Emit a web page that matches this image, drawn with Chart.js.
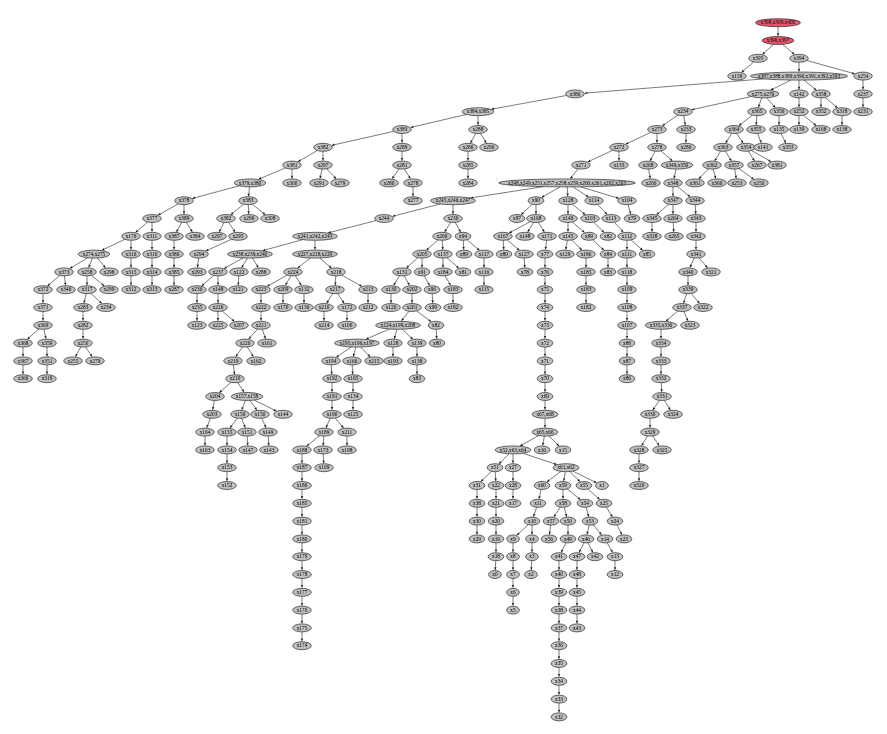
<!DOCTYPE html>
<html>
<head>
<meta charset="utf-8">
<script src="https://cdn.jsdelivr.net/npm/chart.js@4.4.0/dist/chart.umd.min.js"></script>
<style>
  html, body { margin: 0; padding: 0; background: #fff; }
  #wrap { width: 887px; height: 734px; }
</style>
</head>
<body>
<div id="wrap"><canvas id="treeChart" width="887" height="734"></canvas></div>
<script>
// one entry per rank (depth) of the tree; "#2" marks a second node that shows the same label
const rankNames = [
  ['x398,x399,x400'],
  ['x396,x397'],
  ['x395', 'x394'],
  ['x159', 'x387,x388,x389,x390,x391,x392,x393', 'x254'],
  ['x386', 'x275,x276', 'x142', 'x358', 'x237'],
  ['x384,x385', 'x234', 'x365', 'x356', 'x252', 'x352', 'x318', 'x231'],
  ['x383', 'x288', 'x273', 'x233', 'x364', 'x355', 'x135', 'x139', 'x168', 'x138'],
  ['x382', 'x289', 'x286', 'x290', 'x272', 'x278', 'x286#2', 'x363', 'x354', 'x141', 'x353'],
  ['x381', 'x297', 'x281', 'x285', 'x271', 'x133', 'x268', 'x349,x350', 'x362', 'x357', 'x267', 'x381#2'],
  ['x379,x380', 'x300', 'x291', 'x279', 'x280', 'x278#2', 'x284', 'x248,x249,x251,x257,x258,x259,x260,x261,x262,x263', 'x266', 'x348', 'x361', 'x360', 'x253', 'x250#2'],
  ['x378', 'x383#2', 'x277', 'x245,x246,x247', 'x90', 'x128', 'x114', 'x104', 'x347', 'x344'],
  ['x377', 'x389', 'x382#2', 'x296', 'x308', 'x244', 'x230', 'x97', 'x168#2', 'x146', 'x103', 'x113', 'x79', 'x345', 'x264', 'x343'],
  ['x176', 'x311', 'x387', 'x384', 'x297#2', 'x295', 'x241,x242,x243', 'x206', 'x94', 'x167', 'x148', 'x171', 'x145', 'x99', 'x82', 'x112', 'x328', 'x265', 'x342'],
  ['x274,x275', 'x316', 'x310', 'x386#2', 'x294', 'x238,x239,x240', 'x227,x228,x229', 'x205', 'x137', 'x89', 'x117', 'x80', 'x127', 'x77', 'x129', 'x186', 'x84', 'x111', 'x85', 'x341'],
  ['x373', 'x258', 'x298', 'x315', 'x314', 'x385', 'x293', 'x237#2', 'x122', 'x288#2', 'x224', 'x218', 'x131', 'x91', 'x184', 'x81', 'x116', 'x78', 'x76', 'x185', 'x83', 'x118', 'x340', 'x321'],
  ['x372', 'x346', 'x317', 'x299', 'x312', 'x313', 'x287', 'x236', 'x148#2', 'x121', 'x223', 'x209', 'x132', 'x217', 'x213', 'x130', 'x202', 'x96', 'x183', 'x115', 'x75', 'x183#2', 'x109', 'x339'],
  ['x371', 'x283', 'x234#2', 'x235', 'x226', 'x222', 'x170', 'x136', 'x216', 'x172', 'x212', 'x126', 'x201', 'x99#2', 'x182', 'x74', 'x182#2', 'x108', 'x337', 'x322'],
  ['x369', 'x282', 'x123', 'x225', 'x207', 'x221', 'x214', 'x106', 'x124,x199,x208', 'x82#2', 'x73', 'x107', 'x335,x336', 'x323'],
  ['x368', 'x359', 'x250', 'x220', 'x161', 'x195,x196,x197', 'x128#2', 'x139#2', 'x80#2', 'x72', 'x88', 'x334'],
  ['x367', 'x351', 'x255', 'x279#2', 'x219', 'x162', 'x194', 'x166', 'x215', 'x193', 'x138#2', 'x71', 'x87', 'x333'],
  ['x366', 'x319', 'x210', 'x192', 'x165', 'x83#2', 'x70', 'x86', 'x332'],
  ['x204', 'x157,x158', 'x191', 'x134', 'x69', 'x331'],
  ['x203', 'x156', 'x150', 'x144', 'x190', 'x125', 'x67,x68', 'x330', 'x324'],
  ['x164', 'x155', 'x151', 'x149', 'x189', 'x211', 'x65,x66', 'x329'],
  ['x163', 'x154', 'x147', 'x143', 'x188', 'x173', 'x198', 'x52,x63,x64', 'x16', 'x15', 'x328#2', 'x325'],
  ['x153', 'x187', 'x169', 'x51', 'x27', 'x61,x62', 'x327'],
  ['x152', 'x186#2', 'x31', 'x22', 'x28', 'x60', 'x59', 'x55', 'x1', 'x326'],
  ['x185#2', 'x38', 'x21', 'x17', 'x11', 'x58', 'x54', 'x25'],
  ['x181', 'x30', 'x20', 'x10', 'x57', 'x50', 'x53', 'x24'],
  ['x180', 'x29', 'x19', 'x9', 'x4', 'x56', 'x49', 'x46', 'x14', 'x23'],
  ['x179', 'x18', 'x8', 'x3', 'x41', 'x47', 'x42', 'x13'],
  ['x178', 'x0', 'x7', 'x2', 'x40', 'x48', 'x12'],
  ['x177', 'x6', 'x39', 'x45'],
  ['x176#2', 'x5', 'x38#2', 'x44'],
  ['x175', 'x37', 'x43'],
  ['x174', 'x36'],
  ['x35'],
  ['x34'],
  ['x33'],
  ['x32']
];

// horizontal place of each node, same order as rankNames
const rankX = [
  [778],
  [778],
  [758, 799],
  [737, 799, 863],
  [575, 763, 799, 821, 863],
  [478, 683, 757, 779, 799, 821, 842, 863],
  [402, 478, 657, 686, 734, 756, 779, 799, 821, 842],
  [323, 402, 468, 489, 619, 657, 686, 723, 746, 763, 788],
  [292, 323, 402, 468, 581, 619, 648, 677, 712, 734, 757, 777],
  [250, 292, 319, 340, 389, 413, 468, 567, 651, 673, 695, 717, 737, 759],
  [184, 248, 413, 453, 536, 568, 594, 627, 673, 695],
  [152, 184, 226, 249, 270, 384, 453, 517, 536, 568, 590, 611, 632, 652, 673, 696],
  [131, 152, 174, 195, 217, 238, 315, 442, 463, 503, 525, 547, 568, 589, 608, 627, 652, 674, 696],
  [94, 131, 152, 174, 199, 250, 315, 422, 443, 464, 484, 504, 524, 545, 565, 586, 608, 627, 647, 696],
  [64, 87, 109, 131, 152, 174, 197, 218, 239, 261, 293, 336, 402, 422, 443, 463, 484, 525, 545, 586, 608, 627, 688, 711],
  [43, 66, 87, 109, 131, 152, 174, 197, 218, 238, 261, 283, 304, 335, 368, 391, 412, 432, 453, 484, 545, 586, 627, 688],
  [43, 83, 106, 197, 218, 261, 283, 304, 324, 347, 368, 391, 412, 433, 453, 545, 586, 627, 682, 703],
  [43, 83, 197, 218, 239, 261, 324, 347, 398, 436, 545, 627, 661, 690],
  [23, 47, 83, 245, 267, 357, 393, 417, 437, 545, 627, 661],
  [23, 47, 73, 95, 233, 256, 331, 352, 374, 393, 417, 545, 627, 661],
  [23, 47, 235, 332, 353, 417, 545, 627, 661],
  [215, 247, 332, 353, 545, 662],
  [212, 240, 260, 283, 332, 353, 545, 650, 673],
  [205, 227, 247, 268, 324, 347, 545, 650],
  [205, 227, 248, 269, 302, 323, 347, 513, 542, 563, 639, 662],
  [227, 302, 324, 495, 513, 566, 639],
  [227, 302, 477, 496, 513, 542, 563, 584, 602, 639],
  [302, 477, 496, 513, 538, 563, 585, 604],
  [302, 477, 496, 532, 551, 568, 590, 615],
  [302, 477, 496, 513, 532, 549, 568, 586, 605, 624],
  [302, 496, 513, 532, 559, 577, 595, 615],
  [302, 495, 513, 531, 559, 577, 615],
  [302, 513, 559, 577],
  [302, 513, 559, 577],
  [302, 559, 577],
  [302, 559],
  [559],
  [559],
  [559],
  [559]
];

// parent of each node (a node of the rank above)
const rankParents = [
  [null],
  ['x398,x399,x400'],
  ['x396,x397', 'x396,x397'],
  ['x395', 'x394', 'x394'],
  ['x387,x388,x389,x390,x391,x392,x393', 'x387,x388,x389,x390,x391,x392,x393', 'x387,x388,x389,x390,x391,x392,x393', 'x387,x388,x389,x390,x391,x392,x393', 'x254'],
  ['x386', 'x275,x276', 'x275,x276', 'x275,x276', 'x142', 'x358', 'x358', 'x237'],
  ['x384,x385', 'x384,x385', 'x234', 'x234', 'x365', 'x365', 'x356', 'x252', 'x252', 'x318'],
  ['x383', 'x383', 'x288', 'x288', 'x273', 'x273', 'x233', 'x364', 'x364', 'x355', 'x135'],
  ['x382', 'x382', 'x289', 'x286', 'x272', 'x272', 'x278', 'x278', 'x363', 'x363', 'x354', 'x354'],
  ['x381', 'x381', 'x297', 'x297', 'x281', 'x281', 'x285', 'x271', 'x268', 'x349,x350', 'x362', 'x362', 'x357', 'x357'],
  ['x379,x380', 'x379,x380', 'x278#2', 'x248,x249,x251,x257,x258,x259,x260,x261,x262,x263', 'x248,x249,x251,x257,x258,x259,x260,x261,x262,x263', 'x248,x249,x251,x257,x258,x259,x260,x261,x262,x263', 'x248,x249,x251,x257,x258,x259,x260,x261,x262,x263', 'x248,x249,x251,x257,x258,x259,x260,x261,x262,x263', 'x348', 'x348'],
  ['x378', 'x378', 'x383#2', 'x383#2', 'x383#2', 'x245,x246,x247', 'x245,x246,x247', 'x90', 'x90', 'x128', 'x128', 'x114', 'x104', 'x347', 'x347', 'x344'],
  ['x377', 'x377', 'x389', 'x389', 'x382#2', 'x382#2', 'x244', 'x230', 'x230', 'x168#2', 'x168#2', 'x168#2', 'x146', 'x146', 'x103', 'x113', 'x345', 'x264', 'x343'],
  ['x176', 'x176', 'x311', 'x387', 'x295', 'x241,x242,x243', 'x241,x242,x243', 'x206', 'x206', 'x94', 'x94', 'x167', 'x167', 'x171', 'x145', 'x145', 'x99', 'x112', 'x112', 'x342'],
  ['x274,x275', 'x274,x275', 'x274,x275', 'x316', 'x310', 'x386#2', 'x294', 'x238,x239,x240', 'x238,x239,x240', 'x238,x239,x240', 'x227,x228,x229', 'x227,x228,x229', 'x205', 'x205', 'x137', 'x137', 'x117', 'x127', 'x77', 'x186', 'x84', 'x111', 'x341', 'x341'],
  ['x373', 'x373', 'x258', 'x258', 'x315', 'x314', 'x385', 'x237#2', 'x237#2', 'x122', 'x224', 'x224', 'x224', 'x218', 'x218', 'x131', 'x131', 'x91', 'x184', 'x116', 'x76', 'x185', 'x118', 'x340'],
  ['x372', 'x317', 'x317', 'x236', 'x148#2', 'x223', 'x209', 'x132', 'x217', 'x217', 'x213', 'x130', 'x202', 'x96', 'x183', 'x75', 'x183#2', 'x109', 'x339', 'x339'],
  ['x371', 'x283', 'x235', 'x226', 'x226', 'x222', 'x216', 'x172', 'x201', 'x201', 'x74', 'x108', 'x337', 'x337'],
  ['x369', 'x369', 'x282', 'x221', 'x221', 'x124,x199,x208', 'x124,x199,x208', 'x124,x199,x208', 'x82#2', 'x73', 'x107', 'x335,x336'],
  ['x368', 'x359', 'x250', 'x250', 'x220', 'x220', 'x195,x196,x197', 'x195,x196,x197', 'x195,x196,x197', 'x128#2', 'x139#2', 'x72', 'x88', 'x334'],
  ['x367', 'x351', 'x219', 'x194', 'x166', 'x138#2', 'x71', 'x87', 'x333'],
  ['x210', 'x210', 'x192', 'x165', 'x70', 'x332'],
  ['x204', 'x157,x158', 'x157,x158', 'x157,x158', 'x191', 'x134', 'x69', 'x331', 'x331'],
  ['x203', 'x156', 'x156', 'x150', 'x190', 'x190', 'x67,x68', 'x330'],
  ['x164', 'x155', 'x151', 'x149', 'x189', 'x189', 'x211', 'x65,x66', 'x65,x66', 'x65,x66', 'x329', 'x329'],
  ['x154', 'x188', 'x173', 'x52,x63,x64', 'x52,x63,x64', 'x52,x63,x64', 'x328#2'],
  ['x153', 'x187', 'x51', 'x51', 'x27', 'x61,x62', 'x61,x62', 'x61,x62', 'x61,x62', 'x327'],
  ['x186#2', 'x31', 'x22', 'x28', 'x60', 'x59', 'x59', 'x55'],
  ['x185#2', 'x38', 'x21', 'x11', 'x58', 'x58', 'x54', 'x25'],
  ['x181', 'x30', 'x20', 'x10', 'x10', 'x57', 'x50', 'x53', 'x53', 'x24'],
  ['x180', 'x19', 'x9', 'x4', 'x49', 'x46', 'x46', 'x14'],
  ['x179', 'x18', 'x8', 'x3', 'x41', 'x47', 'x13'],
  ['x178', 'x7', 'x40', 'x48'],
  ['x177', 'x6', 'x39', 'x45'],
  ['x176#2', 'x38#2', 'x44'],
  ['x175', 'x37'],
  ['x36'],
  ['x35'],
  ['x34'],
  ['x33']
];

const highlighted = ['x398,x399,x400', 'x396,x397'];

// flatten the ranks into one node list
const nodes = [];
rankNames.forEach((names, r) => {
  if (names.length !== rankX[r].length || names.length !== rankParents[r].length) {
    console.warn('rank ' + r + ' length mismatch');
  }
  names.forEach((name, i) => {
    nodes.push({ key: name, label: name.split('#')[0], x: rankX[r][i], rank: r, parent: rankParents[r][i] });
  });
});
const indexOf = {};
nodes.forEach((n, i) => { indexOf[n.key] = i; });

const FONT = '5.3px "Liberation Serif", "Times New Roman", serif';

const treePlugin = {
  id: 'treePlugin',
  afterDatasetsDraw(chart) {
    const ctx = chart.ctx;
    const meta = chart.getDatasetMeta(0);
    ctx.save();
    ctx.font = FONT;
    const radii = nodes.map(n => {
      const tw = ctx.measureText(n.label).width;
      return { rx: (tw * 1.1 + 7) / 2, ry: 4 };
    });

    // edges with small arrow heads
    ctx.strokeStyle = '#222';
    ctx.fillStyle = '#222';
    ctx.lineWidth = 0.6;
    nodes.forEach((n, i) => {
      if (n.parent == null) return;
      const p = indexOf[n.parent];
      if (p === undefined) { console.warn('no parent ' + n.parent); return; }
      const a = meta.data[p], b = meta.data[i];
      const dx = b.x - a.x, dy = b.y - a.y;
      const len = Math.sqrt(dx * dx + dy * dy);
      const ux = dx / len, uy = dy / len;
      const tA = 1 / Math.sqrt(Math.pow(dx / radii[p].rx, 2) + Math.pow(dy / radii[p].ry, 2));
      const tB = 1 / Math.sqrt(Math.pow(dx / radii[i].rx, 2) + Math.pow(dy / radii[i].ry, 2));
      const sx = a.x + dx * tA, sy = a.y + dy * tA;
      const ex = b.x - dx * tB, ey = b.y - dy * tB;
      const head = 3.2, half = 1.2;
      const bx = ex - ux * head, by = ey - uy * head;
      ctx.beginPath();
      ctx.moveTo(sx, sy);
      ctx.lineTo(bx, by);
      ctx.stroke();
      ctx.beginPath();
      ctx.moveTo(ex, ey);
      ctx.lineTo(bx - uy * half, by + ux * half);
      ctx.lineTo(bx + uy * half, by - ux * half);
      ctx.closePath();
      ctx.fill();
    });

    // node ellipses and labels
    ctx.textAlign = 'center';
    ctx.textBaseline = 'middle';
    nodes.forEach((n, i) => {
      const el = meta.data[i];
      ctx.beginPath();
      ctx.ellipse(el.x, el.y, radii[i].rx, radii[i].ry, 0, 0, Math.PI * 2);
      ctx.fillStyle = highlighted.includes(n.key) ? '#e3586f' : '#c0c0c0';
      ctx.fill();
      ctx.lineWidth = 0.6;
      ctx.strokeStyle = '#111';
      ctx.stroke();
      ctx.fillStyle = '#000';
      ctx.fillText(n.label, el.x, el.y + 0.3);
    });
    ctx.restore();
  }
};

// rank r sits at 22.7 + 17.8 * r pixels from the top
const rankTop = -22.7 / 17.8;
const rankBottom = rankTop + 734 / 17.8;

new Chart(document.getElementById('treeChart').getContext('2d'), {
  type: 'scatter',
  data: {
    datasets: [{
      data: nodes.map(n => ({ x: n.x, y: n.rank })),
      pointRadius: 0,
      pointHoverRadius: 0
    }]
  },
  options: {
    responsive: false,
    animation: false,
    events: [],
    layout: { padding: 0 },
    plugins: { legend: { display: false }, tooltip: { enabled: false } },
    scales: {
      x: { type: 'linear', min: 0, max: 887, display: false },
      y: { type: 'linear', min: rankTop, max: rankBottom, reverse: true, display: false }
    }
  },
  plugins: [treePlugin]
});
</script>
</body>
</html>
